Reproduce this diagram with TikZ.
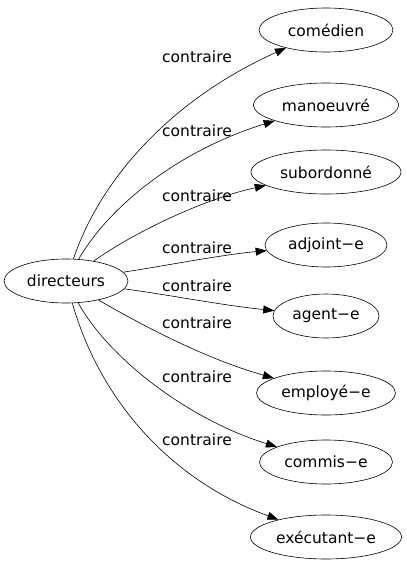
\documentclass[tikz,border=0pt]{standalone}
\usepackage{fontspec}
\setmainfont{DejaVu Sans}
\usetikzlibrary{shapes.geometric,arrows.meta}
\begin{document}
\begin{tikzpicture}[x=1pt,y=-1pt,
  word/.style={ellipse,draw,line width=0.6pt,inner sep=0pt,minimum height=44pt,font=\fontsize{15.5}{17}\selectfont},
  lab/.style={inner sep=0pt,font=\fontsize{15.5}{17}\selectfont},
  rel/.style={-{Triangle[length=11pt,width=8pt]},line width=0.6pt}]
\useasboundingbox (0,0) rectangle (407,563);
\node[word,minimum width=124pt] (src) at (66,281) {directeurs};
\node[word,minimum width=134pt] (t1) at (326,30) {comédien};
\node[word,minimum width=145pt] (t2) at (326,105) {manoeuvré};
\node[word,minimum width=150pt] (t3) at (326,172) {subordonné};
\node[word,minimum width=122pt] (t4) at (326,245) {adjoint−e};
\node[word,minimum width=106pt] (t5) at (326,316) {agent−e};
\node[word,minimum width=139pt] (t6) at (326,393) {employé−e};
\node[word,minimum width=133pt] (t7) at (326,462) {commis−e};
\node[word,minimum width=151pt] (t8) at (326,537) {exécutant−e};
\draw[rel] (src) .. controls (100,180) and (170,100) .. (t1);
\draw[rel] (src) .. controls (110,205) and (180,150) .. (t2);
\draw[rel] (src) .. controls (130,235) and (200,200) .. (t3);
\draw[rel] (src) .. controls (170,265) and (220,255) .. (t4);
\draw[rel] (src) .. controls (170,295) and (220,305) .. (t5);
\draw[rel] (src) .. controls (150,330) and (210,360) .. (t6);
\draw[rel] (src) .. controls (110,360) and (190,420) .. (t7);
\draw[rel] (src) .. controls (100,400) and (170,480) .. (t8);
\node[lab] (l1) at (197,57) {contraire};
\node[lab] (l2) at (197,131) {contraire};
\node[lab] (l3) at (197,196) {contraire};
\node[lab] (l4) at (197,248) {contraire};
\node[lab] (l5) at (197,286) {contraire};
\node[lab] (l6) at (197,323) {contraire};
\node[lab] (l7) at (197,377) {contraire};
\node[lab] (l8) at (197,440) {contraire};
\end{tikzpicture}
\end{document}
